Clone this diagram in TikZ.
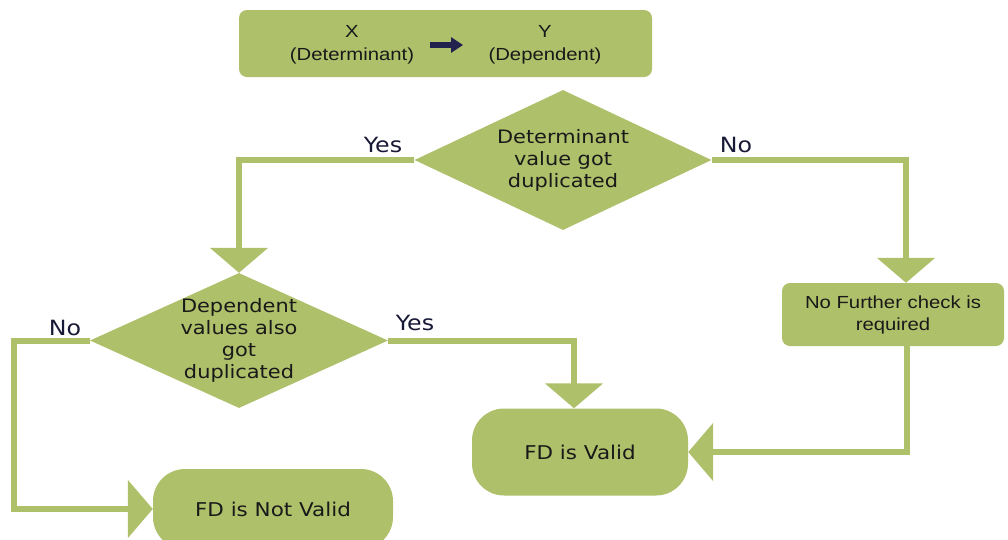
\documentclass[tikz,border=0pt]{standalone}
\usepackage{fontspec}
\setmainfont{Liberation Sans}[FakeStretch=1.16]
\newfontfamily\verdfont{DejaVu Sans}[FakeStretch=1.13]
\usetikzlibrary{shapes.geometric,arrows.meta}
\definecolor{olive}{RGB}{175,192,106}
\definecolor{navy}{RGB}{34,34,78}
\definecolor{ink}{RGB}{25,25,25}
\begin{document}
\begin{tikzpicture}[x=1pt,y=-1pt]

      \tikzset{greenbox/.style={fill=olive, draw=none, rounded corners=8pt, inner sep=0pt},
               term/.style={fill=olive, draw=none, rounded corners=32pt, inner sep=0pt, text=ink,
                            font=\verdfont\fontsize{19}{22}\selectfont},
               decision/.style={diamond, fill=olive, draw=none, inner sep=-16pt, aspect=2.1, text=ink,
                            align=center, font=\verdfont\fontsize{18.5}{22}\selectfont},
               flow/.style={draw=olive, line width=6pt, -{Triangle[width=57pt,length=25pt]}},
               answer/.style={text=navy!70!black, font=\verdfont\fontsize{21}{22}\selectfont}}
      \useasboundingbox (0,0) rectangle (1008,539);
% Nodes
      	\node[greenbox, minimum width=413pt, minimum height=67pt] (head) at (445.5,43.5) {};
      	\node[align=center, text=ink, font=\fontsize{17.5}{23}\selectfont] (x) at (352,45) {X\\(Determinant)};
      	\node[align=center, text=ink, font=\fontsize{17.5}{23}\selectfont] (y) at (545,45) {Y\\(Dependent)};
      	\node[decision, minimum width=297pt, minimum height=140pt] (d1) at (563,160) {Determinant\\value got\\duplicated};
      	\node[decision, minimum width=298pt, minimum height=135pt] (d2) at (239,340.5) {Dependent\\values also\\got\\duplicated};
      	\node[greenbox, minimum width=222pt, minimum height=63pt, align=center, text=ink,
      	      font=\fontsize{17.5}{22}\selectfont] (nocheck) at (893,314.5) {No Further check is\\required};
      	\node[term, minimum width=216pt, minimum height=87pt] (valid) at (580,452) {FD is Valid};
      	\node[term, minimum width=240pt, minimum height=80pt] (notvalid) at (273,509) {FD is Not Valid};
%Edges
		\draw[navy, line width=6pt, -{Triangle[width=15pt,length=12pt]}] ([xshift=12pt]x.east) -- ([xshift=-22pt]y.west);
		\draw[flow] (d1.west) -| (d2.north);
		\draw[flow] (d1.east) -| ([xshift=13pt]nocheck.north);
		\draw[flow] ([xshift=14pt]nocheck.south) |- (valid.east);
		\draw[flow] (d2.east) -| ([xshift=-6pt]valid.north);
		\draw[flow] (d2.west) -- ++(-76,0) |- (notvalid.west);
% Labels
		\node[answer] (yes1) at (383,145) {Yes};
		\node[answer] (no1) at (736,145) {No};
		\node[answer] (yes2) at (415,323) {Yes};
		\node[answer] (no2) at (65,328) {No};

	\end{tikzpicture}
\end{document}
